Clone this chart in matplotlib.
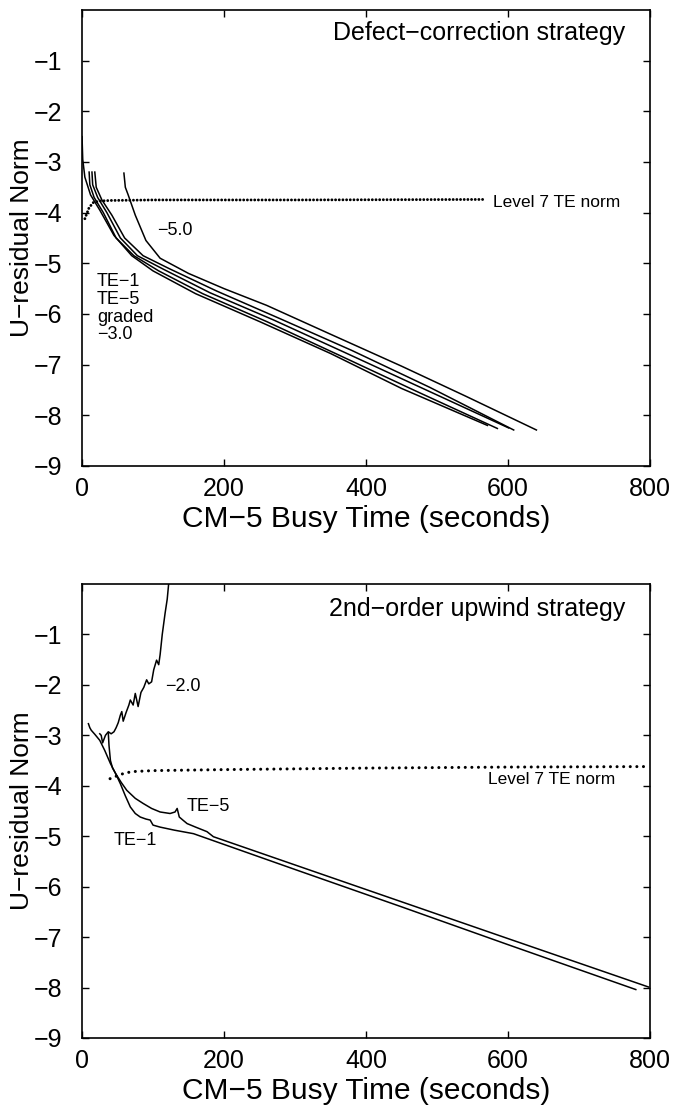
import numpy as np
import matplotlib
matplotlib.use("Agg")
import matplotlib.pyplot as plt

plt.rcParams["font.family"] = ["Liberation Sans", "DejaVu Sans"]

# ---- top panel: defect-correction strategy ----
top_te_norm_x = [4, 10, 16, 25, 40, 100, 300, 566]
top_te_norm_y = [-4.12, -3.9, -3.8, -3.77, -3.76, -3.75, -3.75, -3.74]

top_curves = {
    "a": ([0, 1, 4, 12, 25, 45, 70, 100, 160, 250, 350, 450, 571],
          [-2.5, -2.95, -3.3, -3.65, -3.95, -4.45, -4.85, -5.15, -5.6, -6.15, -6.78, -7.47, -8.2]),
    "b": ([10, 11, 17, 30, 48, 73, 108, 170, 260, 360, 470, 585],
          [-3.2, -3.45, -3.7, -4.0, -4.5, -4.85, -5.15, -5.6, -6.15, -6.8, -7.52, -8.26]),
    "c": ([14, 15, 22, 35, 54, 78, 115, 180, 270, 370, 480, 601],
          [-3.2, -3.45, -3.7, -4.0, -4.5, -4.85, -5.12, -5.58, -6.12, -6.76, -7.47, -8.25]),
    "d": ([18, 20, 28, 42, 60, 86, 122, 190, 280, 380, 490, 608],
          [-3.2, -3.5, -3.75, -4.05, -4.5, -4.85, -5.1, -5.55, -6.1, -6.72, -7.45, -8.29]),
    "e": ([59, 61, 65, 75, 90, 110, 150, 200, 260, 350, 450, 540, 640],
          [-3.22, -3.5, -3.65, -4.05, -4.55, -4.9, -5.2, -5.5, -5.83, -6.4, -7.03, -7.62, -8.29]),
}

# ---- bottom panel: 2nd-order upwind strategy ----
bot_te_norm_x = [39.5, 50, 58, 70, 100, 200, 400, 600, 793]
bot_te_norm_y = [-3.86, -3.8, -3.76, -3.72, -3.7, -3.68, -3.65, -3.63, -3.62]

div_x = [25, 27, 29, 33, 37, 41, 45, 48, 51, 54, 56, 58, 62, 66, 68, 72, 75, 77, 79, 83, 87, 91,
         94, 98, 101, 105, 108, 110, 113, 117, 120, 122]
div_y = [-2.97, -3.0, -3.15, -3.0, -2.93, -2.97, -2.93, -2.85, -2.75, -2.6, -2.53, -2.72, -2.55,
         -2.4, -2.3, -2.4, -2.17, -2.3, -2.43, -2.15, -2.05, -1.9, -1.98, -1.94, -1.7, -1.51,
         -1.6, -1.4, -1.0, -0.58, -0.3, 0.0]

te5_x = [37, 38, 40, 43, 47, 55, 63, 75, 86, 98, 110, 124, 131, 134, 137, 142, 148, 160, 176, 185,
         300, 450, 600, 798]
te5_y = [-2.95, -3.2, -3.5, -3.65, -3.75, -3.93, -4.09, -4.25, -4.35, -4.45, -4.52, -4.55, -4.52,
         -4.45, -4.62, -4.68, -4.75, -4.82, -4.91, -5.01, -5.57, -6.3, -7.03, -7.99]

te1_x = [9, 11, 13, 18, 25, 32, 40, 47, 54, 61, 68, 75, 82, 90, 96, 100, 110, 130, 157, 300, 450,
         600, 780]
te1_y = [-2.77, -2.85, -2.9, -2.98, -3.1, -3.3, -3.56, -3.75, -3.96, -4.2, -4.42, -4.55, -4.62,
         -4.66, -4.68, -4.78, -4.82, -4.88, -4.95, -5.66, -6.4, -7.15, -8.04]

fig = plt.figure(figsize=(6.74, 11.06), dpi=100)
ax1 = fig.add_axes([0.1217, 0.5787, 0.8427, 0.4123])
ax2 = fig.add_axes([0.1217, 0.0615, 0.8427, 0.4105])

lw = 1.1
lab = 13
for x, y in top_curves.values():
    ax1.plot(x, y, color="black", lw=lw)
ax1.plot(top_te_norm_x, top_te_norm_y, color="black", lw=2.1,
         linestyle=(0, (0.01, 1.25)), dash_capstyle="round")
ax1.text(579, -3.8, "Level 7 TE norm", fontsize=12.5, va="center", ha="left")
ax1.text(106, -4.36, "\u22125.0", fontsize=lab, va="center", ha="left")
ax1.text(21, -5.2, "TE\u22121\nTE\u22125\ngraded\n\u22123.0", fontsize=lab, va="top", ha="left",
         linespacing=1.05)
ax1.text(765, -0.45, "Defect\u2212correction strategy", fontsize=18, va="center", ha="right")

ax2.plot(div_x, div_y, color="black", lw=lw)
ax2.plot(te5_x, te5_y, color="black", lw=lw)
ax2.plot(te1_x, te1_y, color="black", lw=lw)
ax2.plot(bot_te_norm_x, bot_te_norm_y, color="black", lw=2.2,
         linestyle=(0, (0.01, 2.15)), dash_capstyle="round")
ax2.text(572, -3.87, "Level 7 TE norm", fontsize=12.5, va="center", ha="left")
ax2.text(117, -2.04, "\u22122.0", fontsize=lab, va="center", ha="left")
ax2.text(148, -4.42, "TE\u22125", fontsize=lab, va="center", ha="left")
ax2.text(44, -5.08, "TE\u22121", fontsize=lab, va="center", ha="left")
ax2.text(765, -0.5, "2nd\u2212order upwind strategy", fontsize=18, va="center", ha="right")

for ax in (ax1, ax2):
    ax.set_xlim(0, 800)
    ax.set_ylim(-9, 0)
    ax.set_xticks([0, 200, 400, 600, 800])
    ax.set_yticks(range(-9, 0))
    ax.set_yticklabels([f"\u2212{abs(v)}" for v in range(-9, 0)])
    ax.tick_params(direction="in", top=True, right=True, labelsize=18, length=5, width=1)
    ax.tick_params(axis="y", pad=14)
    ax.tick_params(axis="x", pad=8)
    ax.set_xlabel("CM\u22125 Busy Time (seconds)", fontsize=21.5, labelpad=3)
    ax.set_ylabel("U\u2212residual Norm", fontsize=19, labelpad=0)
    for s in ax.spines.values():
        s.set_linewidth(1.2)

fig.savefig("out.png", dpi=100)
